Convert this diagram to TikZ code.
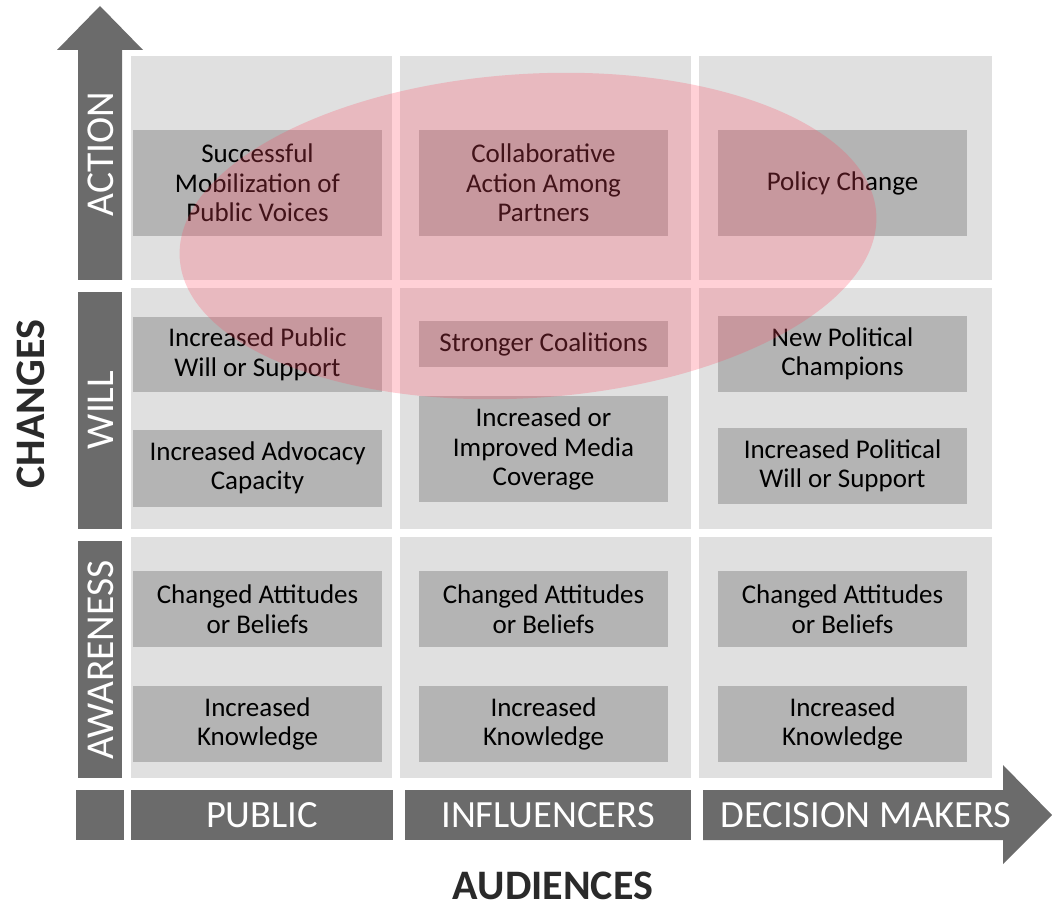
\documentclass[tikz,border=0pt]{standalone}
\usepackage{fontspec}
\setmainfont{Carlito}
\begin{document}
\begin{tikzpicture}[x=1pt,y=-1pt]
\definecolor{cellgray}{HTML}{E0E0E0}
\definecolor{boxgray}{HTML}{B4B4B4}
\definecolor{bargray}{HTML}{6B6B6B}
\definecolor{titlegray}{HTML}{2A2A2A}
\definecolor{ellpink}{RGB}{255,74,97}
\tikzset{
  cell/.style={fill=cellgray, draw=none},
  ibox/.style={fill=boxgray, draw=none, inner sep=0pt, align=center, text=black,
     font=\fontsize{27}{29.5}\selectfont},
  bar/.style={fill=bargray, draw=none},
  barlabel/.style={text=white, inner sep=0pt, font=\fontsize{38.5}{40}\selectfont},
  sidelabel/.style={text=white, inner sep=0pt, rotate=90, font=\fontsize{39.5}{40}\selectfont},
  title/.style={text=titlegray, inner sep=0pt, font=\fontsize{42}{44}\selectfont\bfseries},
}
\useasboundingbox (0,0) rectangle (1052,909);
\fill[white] (0,0) rectangle (1052,909);
% cells
\foreach \xa/\xb in {131/392,400/691,699/992}{
  \foreach \ya/\yb in {56/280,288/529,537/778}{
    \fill[cellgray] (\xa,\ya) rectangle (\xb,\yb);
  }
}
% vertical arrow
\fill[bargray] (78,280) -- (78,50) -- (57,50) -- (100,6) -- (143,50) -- (122,50) -- (122,280) -- cycle;
\fill[bargray] (78,292) rectangle (122,529);
\fill[bargray] (78,541) rectangle (122,778);
\node[sidelabel] (action) at (101,154) {ACTION};
\node[sidelabel] (will) at (101,410) {WILL};
\node[sidelabel] (aware) at (101,660) {AWARENESS};
% bottom bars
\fill[bargray] (76,790) rectangle (124,840);
\fill[bargray] (131,790) rectangle (393,840);
\fill[bargray] (405,790) rectangle (691,840);
\fill[bargray] (703,790) -- (1003,790) -- (1003,765) -- (1052,815) -- (1003,864) -- (1003,840) -- (703,840) -- cycle;
\node[barlabel] (public) at (262,815) {PUBLIC};
\node[barlabel] (infl) at (548,815) {INFLUENCERS};
\node[barlabel] (dm) at (866,815) {DECISION MAKERS};
% titles
\node[title, rotate=90] (changes) at (31,404) {CHANGES};
\node[title, anchor=base] (audiences) at (553,899) {AUDIENCES};
% inner boxes: action
\node[ibox, minimum width=249pt, minimum height=106pt] (a1) at (257.5,183) {Successful\\Mobilization of\\Public Voices};
\node[ibox, minimum width=249pt, minimum height=106pt] (a2) at (543.5,183) {Collaborative\\Action Among\\Partners};
\node[ibox, minimum width=249pt, minimum height=106pt] (a3) at (842.5,183) {Policy Change};
% will
\node[ibox, minimum width=249pt, minimum height=75pt] (w1) at (257.5,354.5) {Increased Public\\Will or Support};
\node[ibox, minimum width=249pt, minimum height=77pt] (w2) at (257.5,468) {Increased Advocacy\\Capacity};
\node[ibox, minimum width=249pt, minimum height=46pt] (w3) at (543.5,344) {Stronger Coalitions};
\node[ibox, minimum width=249pt, minimum height=106pt] (w4) at (543.5,449) {Increased or\\Improved Media\\Coverage};
\node[ibox, minimum width=249pt, minimum height=76pt] (w5) at (842.5,354) {New Political\\Champions};
\node[ibox, minimum width=249pt, minimum height=76pt] (w6) at (842.5,466) {Increased Political\\Will or Support};
% awareness
\node[ibox, minimum width=249pt, minimum height=76pt] (k1) at (257.5,609) {Changed Attitudes\\or Beliefs};
\node[ibox, minimum width=249pt, minimum height=76pt] (k2) at (543.5,609) {Changed Attitudes\\or Beliefs};
\node[ibox, minimum width=249pt, minimum height=76pt] (k3) at (842.5,609) {Changed Attitudes\\or Beliefs};
\node[ibox, minimum width=249pt, minimum height=76pt] (k4) at (257.5,724) {Increased\\Knowledge};
\node[ibox, minimum width=249pt, minimum height=76pt] (k5) at (543.5,724) {Increased\\Knowledge};
\node[ibox, minimum width=249pt, minimum height=76pt] (k6) at (842.5,724) {Increased\\Knowledge};
% ellipse overlay
\fill[ellpink, fill opacity=0.26, rotate around={3.7:(528,236)}] (528,236) ellipse [x radius=349pt, y radius=162pt];
\end{tikzpicture}
\end{document}
